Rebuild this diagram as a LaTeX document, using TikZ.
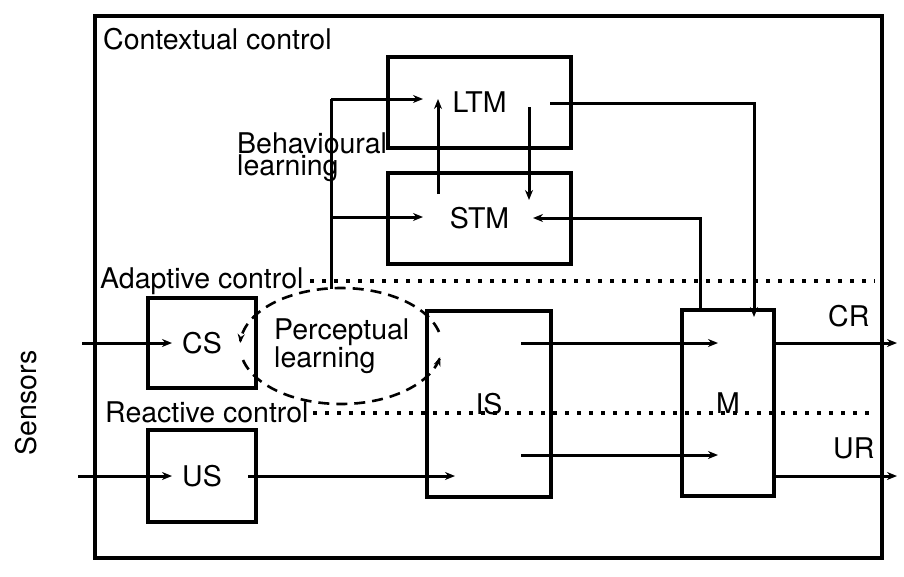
\documentclass[tikz,border=0pt]{standalone}
\usepackage{fontspec}
\setmainfont{TeX Gyre Heros}
\usetikzlibrary{arrows.meta}
\begin{document}
\begin{tikzpicture}[x=1pt,y=-1pt,
  every node/.style={font=\fontsize{28.5}{22}\selectfont, inner sep=0pt},
  blk/.style={draw, line width=3.2pt, rectangle},
  lbl/.style={anchor=base west, align=left},
  conn/.style={line width=3pt, -{Stealth[length=10pt,width=8pt]}},
  plainline/.style={line width=3pt},
  dotline/.style={line width=3.2pt, dash pattern=on 4pt off 8pt},
  dashline/.style={line width=2.6pt, dash pattern=on 11pt off 7pt, -{Stealth[length=9pt,width=7pt]}}]
\useasboundingbox (0,0) rectangle (904,576);
% outer frame
\draw[line width=3.2pt] (95,16) rectangle (882,558);
% dotted separators
\draw[dotline] (310,281) -- (875,281);
\draw[dotline] (313,413) -- (875,413);
% blocks
\node[blk, minimum width=183pt, minimum height=91pt] (ltm) at (479.5,102.5) {LTM};
\node[blk, minimum width=183pt, minimum height=91pt] (stm) at (479.5,218.5) {STM};
\node[blk, minimum width=108pt, minimum height=90pt] (cs) at (202,343) {CS};
\node[blk, minimum width=108pt, minimum height=92pt] (us) at (202,476) {US};
\node[blk, minimum width=124pt, minimum height=186pt] (is) at (489,404) {IS};
\node[blk, minimum width=92pt, minimum height=186pt] (m) at (728,403) {M};
% labels
\node[lbl] (ctx) at (103,49) {Contextual control};
\node[lbl] (adp) at (100,288) {Adaptive control};
\node[lbl] (rea) at (105,422) {Reactive control};
\node[lbl] (beh) at (237,175) {Behavioural\\learning};
\node[lbl, font=\fontsize{28.5}{25}\selectfont] (per) at (274,367) {Perceptual\\learning};
\node[lbl] (cr) at (828,326) {CR};
\node[lbl] (ur) at (833,458) {UR};
\node[rotate=90] (sens) at (26,403) {Sensors};
% coordinates
\coordinate (bl0) at (331,289);
\coordinate (bl1) at (331,99);
\coordinate (bl2) at (331,217);
\coordinate (ltmin) at (423,99);
\coordinate (stmin) at (423,217);
\coordinate (upa) at (438,194);
\coordinate (upb) at (438,99);
\coordinate (dna) at (529,107);
\coordinate (dnb) at (529,200);
\coordinate (ltmout) at (550,103);
\coordinate (mtopin) at (754,317);
\coordinate (mtopout) at (700,310);
\coordinate (stmr) at (533,218);
\coordinate (is1) at (521,343);
\coordinate (is2) at (521,455);
\coordinate (m1) at (718,343);
\coordinate (m2) at (718,455);
\coordinate (cro) at (897,343);
\coordinate (uro) at (897,476);
\coordinate (csin0) at (82,343);
\coordinate (csin1) at (172,343);
\coordinate (usin0) at (78,476);
\coordinate (usin1) at (172,476);
\coordinate (usout) at (248,476);
\coordinate (isin) at (455,476);
% connectors
\draw[plainline] (bl0) -- (bl1);
\draw[conn] (bl1) -- (ltmin);
\draw[conn] (bl2) -- (stmin);
\draw[conn] (upa) -- (upb);
\draw[conn] (dna) -- (dnb);
\draw[conn] (ltmout) -| (mtopin);
\draw[conn] (mtopout) |- (stmr);
\draw[conn] (is1) -- (m1);
\draw[conn] (is2) -- (m2);
\draw[conn] (m.east |- cro) -- (cro);
\draw[conn] (m.east |- uro) -- (uro);
\draw[conn] (csin0) -- (csin1);
\draw[conn] (usin0) -- (usin1);
\draw[conn] (usout) -- (isin);
% perceptual learning loop
\draw[dashline] plot[domain=-14:-177, samples=60, smooth] ({341+101*cos(\x)},{346+58*sin(\x)});
\draw[dashline] plot[domain=166:11, samples=60, smooth] ({341+101*cos(\x)},{346+58*sin(\x)});
\end{tikzpicture}
\end{document}
